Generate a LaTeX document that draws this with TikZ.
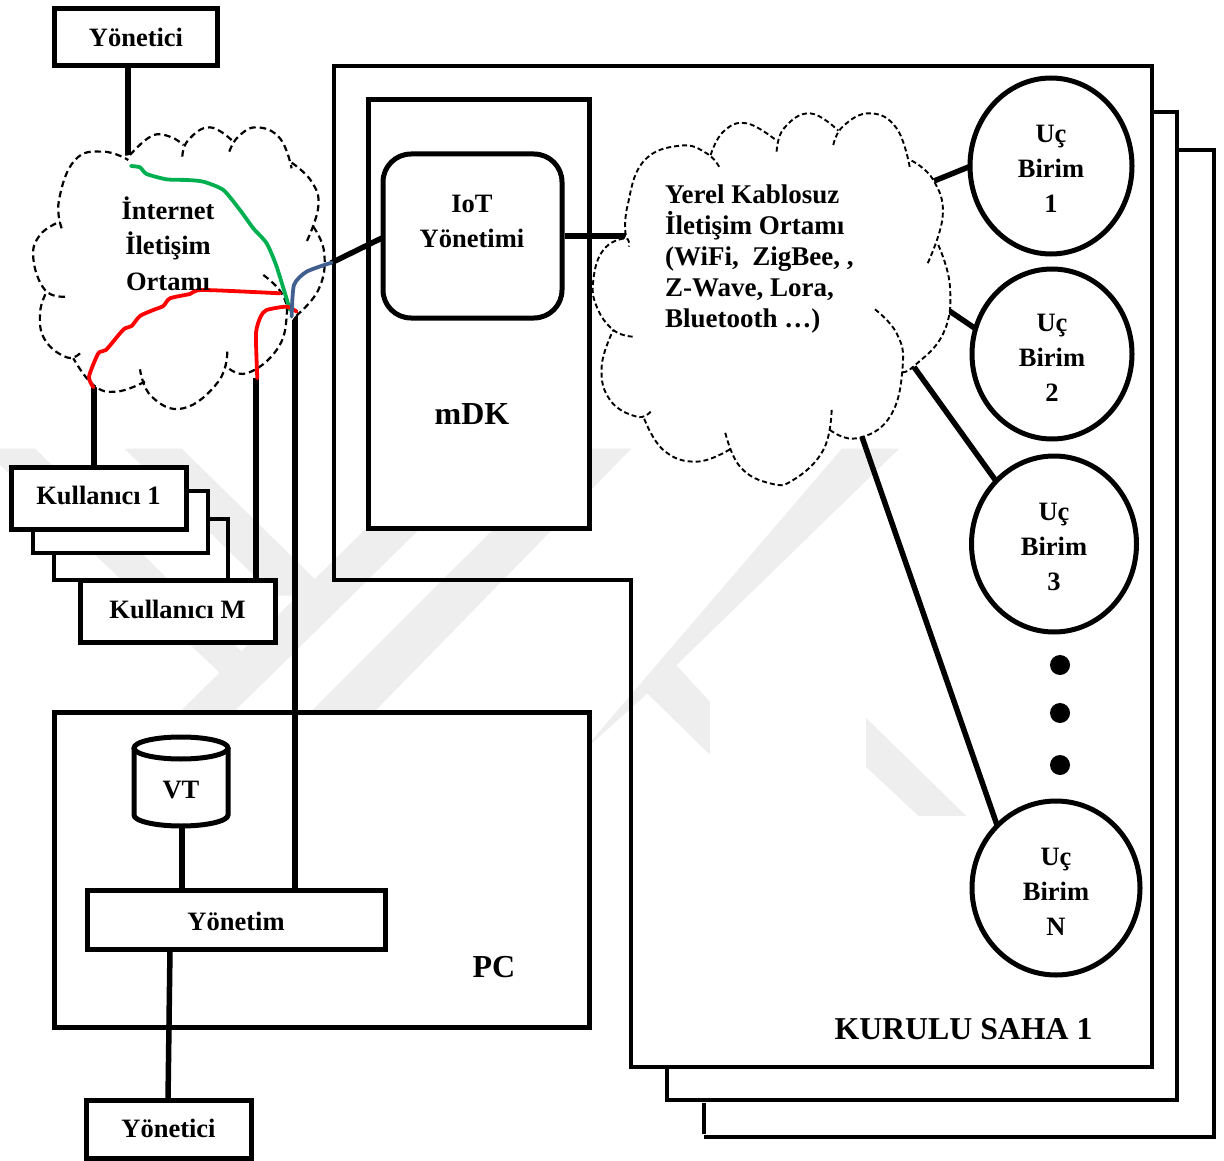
\documentclass[tikz,border=0pt]{standalone}
\usepackage{fontspec}
\setmainfont{Liberation Serif}
\usetikzlibrary{shapes.geometric}
\definecolor{wm}{HTML}{EEEEEE}
\definecolor{lgreen}{HTML}{00B050}
\definecolor{lred}{HTML}{FF0000}
\definecolor{lblue}{HTML}{41608F}
\newcommand{\ucstrut}{\rule{0pt}{24pt}}
\tikzset{
  box/.style={draw=black,fill=white,line width=5pt,rectangle,inner sep=0pt,font=\fontsize{26.5}{35}\selectfont\bfseries,align=center,miter limit=10},
  uc/.style={draw=black,fill=white,line width=5pt,ellipse,inner sep=0pt,font=\fontsize{26.5}{35}\selectfont\bfseries,align=center},
  label/.style={inner sep=0pt,font=\fontsize{26.5}{35}\selectfont\bfseries,align=center},
  biglabel/.style={inner sep=0pt,font=\fontsize{32}{36}\selectfont\bfseries},
  page/.style={draw=black,line width=3.3pt,line join=miter},
  wire/.style={draw=black,line width=5.5pt},
  stack/.style={draw=black,line width=4.5pt},
  lobeA/.style={draw=black,line width=2.2pt,dash pattern=on 6.5pt off 4pt,smooth,tension=0.75},
  lobeB/.style={draw=black,line width=1.9pt,dash pattern=on 5pt off 3pt,smooth,tension=0.75},
  path3/.style={line width=3.8pt,line cap=round,line join=round,smooth,tension=0.4},
}
\begin{document}
\begin{tikzpicture}[x=1pt,y=-1pt]
\useasboundingbox (0,0) rectangle (1224,1161);
% faint background mark
\begin{scope}[shift={(0,420)},xscale=0.6378,yscale=0.4082]
  \fill[wm] (0,70)--(55,70)--(420,630)--(345,620)--(0,110)--cycle;
  \fill[wm] (195,70)--(285,70)--(520,430)--(430,430)--cycle;
  \fill[wm] (285,710)--(370,710)--(786,70)--(701,70)--cycle;
  \fill[wm] (490,710)--(590,710)--(990,70)--(900,70)--cycle;
  \fill[wm] (880,860)--(1015,670)--(1410,70)--(1320,70)--(925,790)--cycle;
  \fill[wm] (1060,600)--(1113,690)--(1113,820)--(1015,670)--cycle;
  \fill[wm] (1358,730)--(1358,850)--(1440,970)--(1515,970)--cycle;
\end{scope}
% stacked pages
\draw[page] (704,1103)--(704,1134);
\draw[page] (704,1137)--(1214,1137)--(1214,150)--(1179,150);
\draw[page] (667,1068)--(667,1100)--(1177,1100)--(1177,112)--(1153,112);
\draw[page] (334,66)--(1152,66)--(1152,1067)--(631,1067)--(631,580)--(334,580)--cycle;
% user stack
\draw[stack,fill=white] (186,491)--(208,491)--(208,553)--(33,553)--(33,529);
\draw[stack] (208,519)--(228,519)--(228,580);
\draw[stack] (33,553)--(54,553)--(54,580)--(80,580);
% boxes
\node[box,minimum width=163pt,minimum height=57pt] (yon1) at (136,37) {Yönetici};
\node[box,minimum width=221pt,minimum height=428pt] (mdk) at (478.5,314) {};
\node[biglabel] (mdkl) at (472,414) {mDK};
\node[box,rounded corners=28pt,minimum width=179pt,minimum height=164pt] (iot) at (472.5,236) {};
\node[label] (iotl) at (472,221) {IoT\\Yönetimi};
\node[box,minimum width=175pt,minimum height=62pt,text height=18pt,text depth=6pt] (k1) at (98.5,498) {Kullanıcı 1};
\node[box,minimum width=195pt,minimum height=62pt,text height=18pt,text depth=4pt] (km) at (177.5,611) {Kullanıcı M};
\node[box,minimum width=535pt,minimum height=315pt] (pc) at (321.5,869.5) {};
\node[biglabel] (pcl) at (494,967) {PC};
\node[box,minimum width=298pt,minimum height=59pt,text height=22pt,text depth=0pt] (ynt) at (236,919.5) {Yönetim};
\node[box,minimum width=165pt,minimum height=58pt,text height=18pt,text depth=2pt] (yon2) at (168.5,1129) {Yönetici};
\node[biglabel,font=\fontsize{31.8}{36}\selectfont\bfseries] (saha) at (963.5,1029) {KURULU SAHA 1};
% database
\draw[draw=black,fill=white,line width=5pt] (134,748) -- (134,815) arc[start angle=180,end angle=0,x radius=47,y radius=11] -- (228,748);
\draw[draw=black,fill=white,line width=5pt] (181,748) ellipse[x radius=47,y radius=11];
\node[label] (vt) at (181,790) {VT};
\coordinate (vtb) at (182,826);
\draw[wire] (vtb) -- (vtb |- ynt.north);
% end units
\node[uc,minimum width=162pt,minimum height=176pt] (u1) at (1051,166) {\ucstrut Uç\\Birim\\1};
\node[uc,minimum width=160pt,minimum height=170pt] (u2) at (1052,354) {\ucstrut Uç\\Birim\\2};
\node[uc,minimum width=165pt,minimum height=176pt] (u3) at (1054,544) {\ucstrut Uç\\Birim\\3};
\node[uc,minimum width=168pt,minimum height=174pt] (un) at (1056,888) {\ucstrut Uç\\Birim\\N};
\node[circle,fill=black,inner sep=0pt,minimum size=20pt] (d1) at (1060,665) {};
\node[circle,fill=black,inner sep=0pt,minimum size=20pt] (d2) at (1060,713) {};
\node[circle,fill=black,inner sep=0pt,minimum size=20pt] (d3) at (1060,765) {};
% connectors
\coordinate (a1) at (128,160);
\draw[wire] (yon1.south -| a1) -- (a1);
\coordinate (a2) at (94,385);
\draw[wire] (a2) -- (a2 |- k1.north);
\coordinate (a3) at (256,378);
\draw[wire] (a3) -- (a3 |- km.north);
\coordinate (a4) at (295,316);
\draw[wire] (a4) -- (a4 |- ynt.north);
\coordinate (a5) at (170,949);
\coordinate (a6) at (168,1100);
\draw[wire] (a5) -- (a6);
\coordinate (a7) at (331,263);
\coordinate (a8) at (384,237);
\draw[wire] (a7) -- (a8);
\coordinate (b0) at (627,236);
\draw[wire] (iot.east |- b0) -- (b0);
\coordinate (b1) at (934,181);
\coordinate (b1e) at (971,166);
\draw[wire] (b1) -- (b1e);
\coordinate (b2) at (948,310);
\coordinate (b2e) at (976,329);
\draw[wire] (b2) -- (b2e);
\coordinate (b3) at (914,367);
\coordinate (b3e) at (996,481);
\draw[wire] (b3) -- (b3e);
\coordinate (b4) at (862,437);
\coordinate (b4e) at (997,825);
\draw[wire] (b4) -- (b4e);
% internet cloud
\begin{scope}[shift={(20,110)},xscale=0.3333,yscale=0.3333]
  \fill[white] plot[smooth cycle,tension=0.6] coordinates {(120,250)(170,140)(250,125)(330,135)(400,72)(490,100)(570,50)(640,90)(710,50)(780,80)(815,160)(880,210)(895,290)(880,350)(915,430)(900,540)(820,625)(770,720)(680,790)(620,770)(600,810)(490,895)(390,860)(365,815)(290,845)(220,825)(160,745)(140,745)(70,690)(60,600)(80,545)(40,440)(60,370)(120,335)};
  \draw[lobeA] plot coordinates {(125,355)(117,270)(165,150)(250,125)(325,150)};
  \draw[lobeA] plot coordinates {(330,135)(395,78)(450,80)(490,105)};
  \draw[lobeA] plot coordinates {(487,140)(505,90)(570,52)(640,95)};
  \draw[lobeA] plot coordinates {(628,125)(655,80)(710,52)(780,85)(815,175)};
  \draw[lobeA] plot coordinates {(815,158)(875,215)(895,290)(860,395)};
  \draw[lobeA] plot coordinates {(880,350)(913,430)(895,540)(820,625)};
  \draw[lobeA] plot coordinates {(730,495)(785,550)(800,620)(770,720)(680,790)(618,768)};
  \draw[lobeA] plot coordinates {(622,725)(595,815)(490,895)(395,860)(360,778)};
  \draw[lobeA] plot coordinates {(375,815)(290,845)(220,825)(160,745)};
  \draw[lobeA] plot coordinates {(180,730)(140,742)(75,690)(60,610)(80,545)};
  \draw[lobeA] plot coordinates {(135,560)(75,540)(40,445)(60,375)(120,335)};
  \draw[path3,lgreen] plot coordinates {(333,168)(360,172)(380,192)(440,208)(500,210)(550,215)(610,240)(660,300)(700,355)(740,400)(770,470)(810,600)};
  \draw[path3,lred] plot coordinates {(220,832)(207,800)(235,730)(258,720)(300,670)(315,655)(335,648)(360,618)(400,600)(430,588)(450,565)(510,552)(548,540)(780,550)};
  \draw[path3,lred] plot coordinates {(712,805)(708,670)(722,620)(740,600)(800,590)(830,605)};
  \draw[path3,lblue] plot coordinates {(815,620)(822,525)(860,485)(935,458)};
\end{scope}
\node[label,font=\fontsize{26.5}{35.5}\selectfont\bfseries] (inet) at (168,243.5) {İnternet\\İletişim\\Ortamı};
% wireless cloud
\begin{scope}[shift={(580,100)},xscale=0.3333,yscale=0.3333]
  \fill[white] plot[smooth cycle,tension=0.6] coordinates {(140,330)(190,180)(300,135)(392,165)(430,90)(500,70)(590,120)(610,80)(690,40)(775,90)(790,75)(870,40)(950,80)(990,185)(1060,240)(1088,350)(1075,435)(1110,560)(1090,700)(1000,800)(965,815)(930,950)(830,1015)(750,990)(730,1050)(640,1140)(570,1150)(480,1100)(450,1048)(350,1085)(250,1050)(190,950)(170,950)(90,900)(65,800)(100,690)(50,620)(40,540)(70,450)(135,415)};
  \draw[lobeB] plot coordinates {(137,405)(142,320)(190,185)(300,137)(380,160)(420,205)};
  \draw[lobeB] plot coordinates {(392,165)(430,95)(500,70)(590,122)};
  \draw[lobeB] plot coordinates {(590,155)(612,85)(690,40)(775,92)};
  \draw[lobeB] plot coordinates {(760,135)(790,78)(870,40)(950,85)(990,205)};
  \draw[lobeB] plot coordinates {(995,182)(1060,240)(1088,350)(1040,497)};
  \draw[lobeB] plot coordinates {(1075,435)(1110,560)(1090,700)(1000,800)(965,815)};
  \draw[lobeB] plot coordinates {(885,628)(950,700)(968,800)(930,950)(830,1015)(750,990)};
  \draw[lobeB] plot coordinates {(755,930)(730,1050)(640,1140)(570,1150)(480,1100)(435,995)};
  \draw[lobeB] plot coordinates {(450,1048)(350,1085)(250,1050)(190,950)};
  \draw[lobeB] plot coordinates {(212,935)(170,950)(90,900)(65,800)(100,690)};
  \draw[lobeB] plot coordinates {(158,710)(100,690)(50,620)(40,540)(70,450)(135,415)(147,440)};
\end{scope}
\node[label,font=\fontsize{27}{31}\selectfont\bfseries,align=left,anchor=north west] (ykl) at (665,185) {Yerel Kablosuz\\İletişim Ortamı\\(WiFi,\ \ ZigBee, ,\\Z-Wave, Lora,\\Bluetooth …)};
\end{tikzpicture}
\end{document}
